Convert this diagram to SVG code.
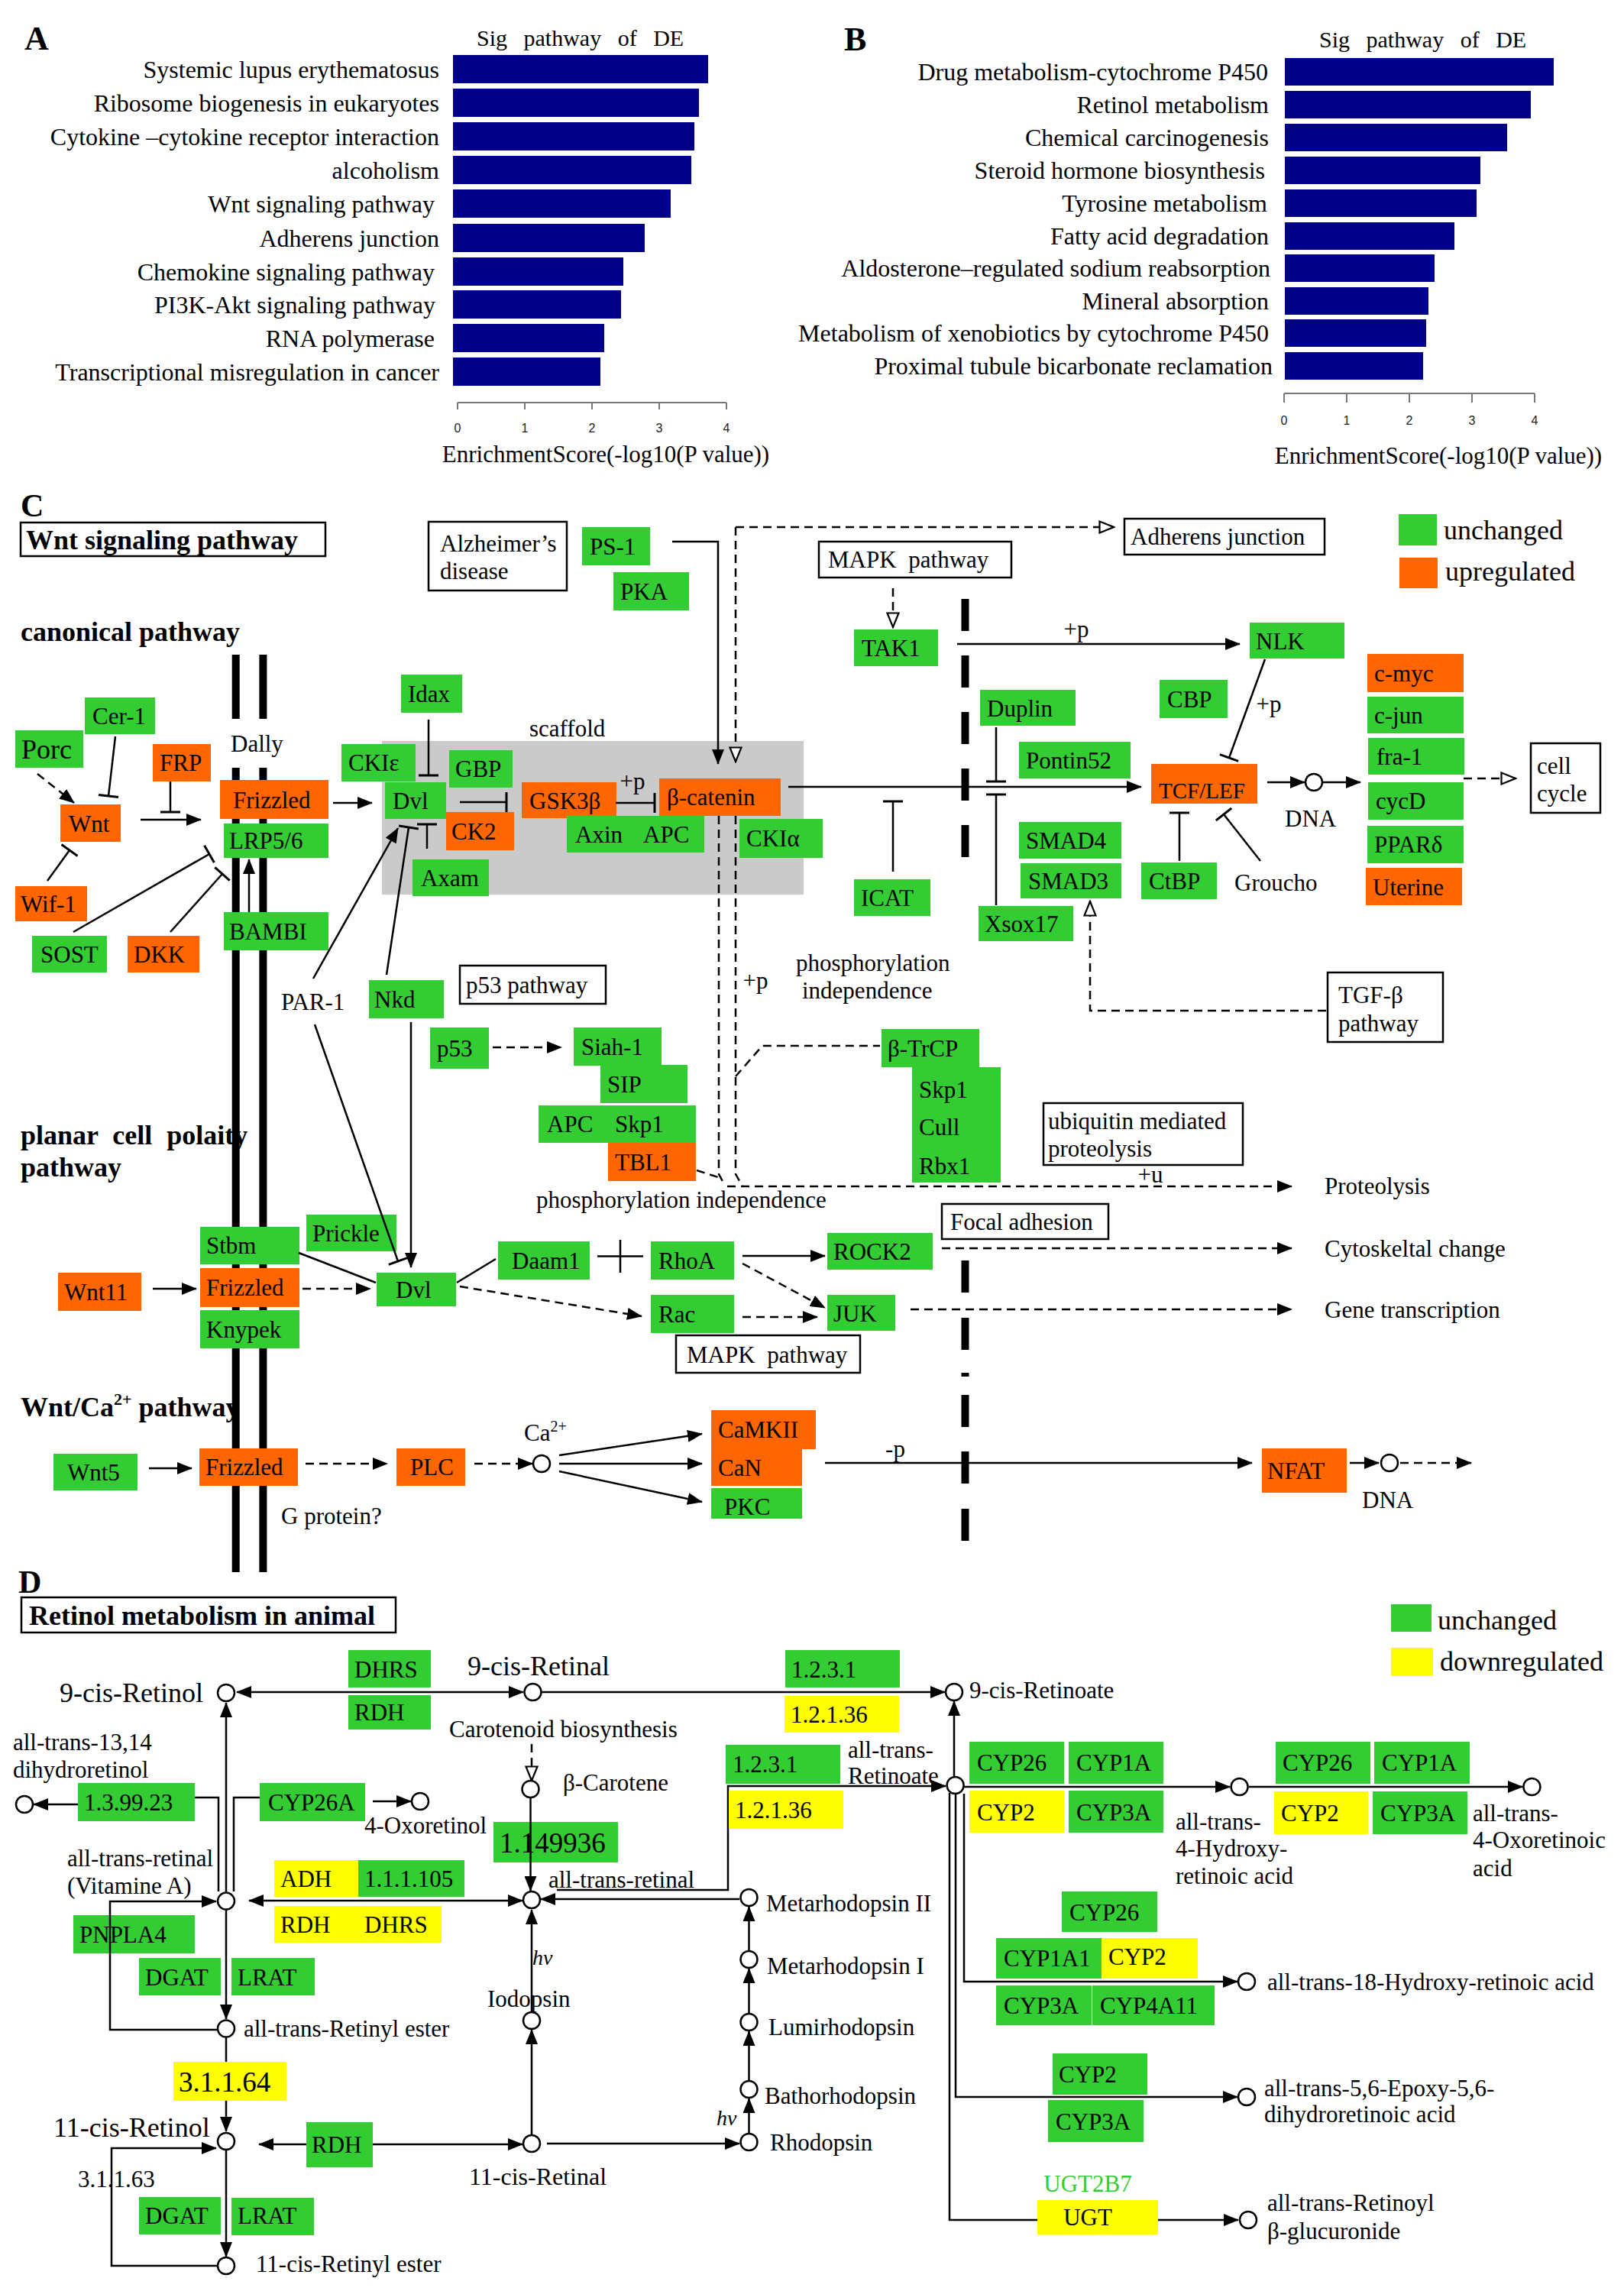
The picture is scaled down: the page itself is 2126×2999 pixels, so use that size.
<svg xmlns="http://www.w3.org/2000/svg" width="2126" height="2999" viewBox="0 0 2126 2999">
<defs>
<style>
.t{font-family:"Liberation Serif","Times New Roman",serif;font-size:31px;fill:#000}
.h{font-weight:bold;font-size:36px}
.big{font-size:36px}
.m{text-anchor:middle}
.r{text-anchor:end}
.lb{font-size:32px}
.ax{font-family:"Liberation Sans",Arial,sans-serif;font-size:16px;fill:#222;text-anchor:middle}
.bar{fill:#000088}
.g{fill:#33cc33}
.o{fill:#ff6600}
.y{fill:#ffff00}
.bx{fill:#fff;stroke:#000;stroke-width:2.5}
.c{stroke:#000;stroke-width:2.5;fill:none}
.dd{stroke-dasharray:11 7}
.ci{fill:#fff;stroke:#000;stroke-width:2.5}
.mem{stroke:#000;stroke-width:10;fill:none}
.ttl{font-size:30px;word-spacing:14px}
</style>
<marker id="a" viewBox="0 0 20 16" refX="19" refY="8" markerWidth="20" markerHeight="16" markerUnits="userSpaceOnUse" orient="auto-start-reverse"><path d="M0,0L20,8L0,16z" fill="#000"/></marker>
<marker id="oa" viewBox="0 0 22 18" refX="20" refY="9" markerWidth="22" markerHeight="18" markerUnits="userSpaceOnUse" orient="auto"><path d="M1.5,1.5L20,9L1.5,16.5z" fill="#fff" stroke="#000" stroke-width="2.2"/></marker>
<marker id="tb" viewBox="0 0 4 26" refX="2" refY="13" markerWidth="4" markerHeight="26" markerUnits="userSpaceOnUse" orient="auto"><path d="M2,0V26" stroke="#000" stroke-width="3"/></marker>
</defs>
<rect width="2126" height="2999" fill="#fff"/>

<!-- ================= PANEL A ================= -->
<g id="panelA">
<text class="t h" x="32" y="65" style="font-size:44px">A</text>
<text class="t ttl" x="624" y="60">Sig pathway of DE</text>
<g id="barsA">
<rect class="bar" x="593" y="72" width="334" height="37"/>
<rect class="bar" x="593" y="116" width="322" height="37"/>
<rect class="bar" x="593" y="160" width="316" height="37"/>
<rect class="bar" x="593" y="204" width="312" height="37"/>
<rect class="bar" x="593" y="248" width="285" height="37"/>
<rect class="bar" x="593" y="293" width="251" height="37"/>
<rect class="bar" x="593" y="337" width="223" height="37"/>
<rect class="bar" x="593" y="380" width="220" height="37"/>
<rect class="bar" x="593" y="424" width="198" height="37"/>
<rect class="bar" x="593" y="468" width="193" height="37"/>
</g>
<g id="labelsA">
<text class="t r lb" x="575" y="102">Systemic lupus erythematosus</text>
<text class="t r lb" x="575" y="146">Ribosome biogenesis in eukaryotes</text>
<text class="t r lb" x="575" y="190">Cytokine –cytokine receptor interaction</text>
<text class="t r lb" x="575" y="234">alcoholism</text>
<text class="t r lb" x="569" y="278">Wnt signaling pathway</text>
<text class="t r lb" x="575" y="323">Adherens junction</text>
<text class="t r lb" x="569" y="367">Chemokine signaling pathway</text>
<text class="t r lb" x="570" y="410">PI3K-Akt signaling pathway</text>
<text class="t r lb" x="569" y="454">RNA polymerase</text>
<text class="t r lb" x="575" y="498">Transcriptional misregulation in cancer</text>
</g>
<path d="M599,527H951M599,527V536M687,527V536M775,527V536M863,527V536M951,527V536" stroke="#777" stroke-width="2" fill="none"/>
<text class="ax" x="599" y="566">0</text>
<text class="ax" x="687" y="566">1</text>
<text class="ax" x="775" y="566">2</text>
<text class="ax" x="863" y="566">3</text>
<text class="ax" x="951" y="566">4</text>
<text class="t m" x="793" y="605">EnrichmentScore(-log10(P value))</text>
</g>

<!-- ================= PANEL B ================= -->
<g id="panelB">
<text class="t h" x="1105" y="66" style="font-size:44px">B</text>
<text class="t ttl" x="1727" y="62">Sig pathway of DE</text>
<g id="barsB">
<rect class="bar" x="1682" y="76" width="352" height="36"/>
<rect class="bar" x="1682" y="119" width="322" height="36"/>
<rect class="bar" x="1682" y="162" width="291" height="36"/>
<rect class="bar" x="1682" y="205" width="256" height="36"/>
<rect class="bar" x="1682" y="248" width="251" height="36"/>
<rect class="bar" x="1682" y="291" width="222" height="36"/>
<rect class="bar" x="1682" y="333" width="196" height="36"/>
<rect class="bar" x="1682" y="376" width="188" height="36"/>
<rect class="bar" x="1682" y="418" width="185" height="36"/>
<rect class="bar" x="1682" y="461" width="181" height="36"/>
</g>
<g id="labelsB">
<text class="t r lb" x="1660" y="105">Drug metabolism-cytochrome P450</text>
<text class="t r lb" x="1661" y="148">Retinol metabolism</text>
<text class="t r lb" x="1661" y="191">Chemical carcinogenesis</text>
<text class="t r lb" x="1656" y="234">Steroid hormone biosynthesis</text>
<text class="t r lb" x="1659" y="277">Tyrosine metabolism</text>
<text class="t r lb" x="1661" y="320">Fatty acid degradation</text>
<text class="t r lb" x="1663" y="362">Aldosterone–regulated sodium reabsorption</text>
<text class="t r lb" x="1661" y="405">Mineral absorption</text>
<text class="t r lb" x="1661" y="447">Metabolism of xenobiotics by cytochrome P450</text>
<text class="t r lb" x="1666" y="490">Proximal tubule bicarbonate reclamation</text>
</g>
<path d="M1681,515H2009M1681,515V527M1763,515V527M1845,515V527M1927,515V527M2009,515V527" stroke="#777" stroke-width="2" fill="none"/>
<text class="ax" x="1681" y="556">0</text>
<text class="ax" x="1763" y="556">1</text>
<text class="ax" x="1845" y="556">2</text>
<text class="ax" x="1927" y="556">3</text>
<text class="ax" x="2009" y="556">4</text>
<text class="t m" x="1883" y="607">EnrichmentScore(-log10(P value))</text>
</g>

<!-- ================= PANEL C ================= -->
<g id="panelC">
<text class="t h" x="27" y="676" style="font-size:42px">C</text>
<g id="titleC"><rect class="bx" x="27" y="684" width="399" height="44"/><text class="t h" x="34" y="719">Wnt signaling pathway</text></g>
<text class="t h" x="27" y="839">canonical pathway</text>
<text class="t h" x="27" y="1498" style="word-spacing:10px">planar cell polaity</text>
<text class="t h" x="27" y="1540">pathway</text>
<text class="t h" x="27" y="1854">Wnt/Ca<tspan dy="-15" style="font-size:22px">2+</tspan><tspan dy="15"> pathway</tspan></text>

<g id="legendC">
<rect class="g" x="1831" y="673" width="50" height="41"/>
<text class="t big" x="1890" y="706">unchanged</text>
<rect class="o" x="1832" y="730" width="50" height="40"/>
<text class="t big" x="1892" y="760">upregulated</text>
</g>

<g id="membranes">
<path class="mem" d="M308.7,857V941M344.4,857V941M308.7,1005V2058M344.4,1005V2058"/>
<path class="mem" d="M1263.5,784V826M1263.5,858V900M1263.5,932V974M1263.5,1006V1048M1263.5,1080V1122M1263.5,1650V1692M1263.5,1725V1767M1263.5,1797V1802M1263.5,1826V1868M1263.5,1900V1942M1263.5,1975V2017"/>
</g>
<rect id="scaffold" x="500" y="970" width="552" height="201" fill="#cacaca"/>
<text class="t" x="693" y="964">scaffold</text>
<text class="t" x="302" y="984">Dally</text>
<text class="t" x="368" y="1322">PAR-1</text>

<g id="alz"><rect class="bx" x="561" y="683" width="181" height="90"/><text class="t" x="576" y="722">Alzheimer’s</text><text class="t" x="576" y="758">disease</text></g>
<g id="p53path"><rect class="bx" x="602" y="1264" width="191" height="50"/><text class="t" x="610" y="1300">p53 pathway</text></g>
<g id="mapk1"><rect class="bx" x="1072" y="709" width="252" height="47"/><text class="t" x="1084" y="743" style="word-spacing:8px">MAPK pathway</text></g>
<g id="adherens"><rect class="bx" x="1472" y="679" width="262" height="47"/><text class="t" x="1480" y="713">Adherens junction</text></g>
<g id="cellcycle"><rect class="bx" x="2004" y="973" width="91" height="91"/><text class="t" x="2012" y="1013">cell</text><text class="t" x="2012" y="1049">cycle</text></g>
<g id="tgfb"><rect class="bx" x="1738" y="1273" width="151" height="91"/><text class="t" x="1752" y="1313">TGF-β</text><text class="t" x="1752" y="1350">pathway</text></g>
<g id="ubiq"><rect class="bx" x="1366" y="1444" width="261" height="81"/><text class="t" x="1372" y="1478">ubiquitin mediated</text><text class="t" x="1372" y="1514">proteolysis</text></g>
<g id="focal"><rect class="bx" x="1233" y="1576" width="218" height="46"/><text class="t" x="1244" y="1610">Focal adhesion</text></g>
<g id="mapk2"><rect class="bx" x="885" y="1748" width="241" height="49"/><text class="t" x="899" y="1784" style="word-spacing:8px">MAPK pathway</text></g>

<g id="PS1"><rect class="g" x="762" y="690" width="89" height="50"/><text class="t" x="772" y="726">PS-1</text></g>
<g id="PKA"><rect class="g" x="803" y="749" width="99" height="50"/><text class="t" x="812" y="785">PKA</text></g>
<g id="Porc"><rect class="g" x="20" y="956" width="89" height="49"/><text class="t big" x="28" y="993">Porc</text></g>
<g id="Cer1"><rect class="g" x="111" y="913" width="92" height="48"/><text class="t" x="121" y="948">Cer-1</text></g>
<g id="FRP"><rect class="o" x="200" y="974" width="76" height="49"/><text class="t" x="209" y="1009">FRP</text></g>
<g id="Wnt"><rect class="o" x="79" y="1053" width="79" height="49"/><text class="t" x="90" y="1089">Wnt</text></g>
<g id="Wif1"><rect class="o" x="20" y="1160" width="94" height="46"/><text class="t" x="27" y="1194">Wif-1</text></g>
<g id="SOST"><rect class="g" x="42" y="1225" width="98" height="48"/><text class="t" x="53" y="1260">SOST</text></g>
<g id="DKK"><rect class="o" x="167" y="1225" width="94" height="48"/><text class="t" x="175" y="1260">DKK</text></g>
<g id="Frizzled1"><rect class="o" x="288" y="1021" width="142" height="51"/><text class="t" x="305" y="1058">Frizzled</text></g>
<g id="LRP56"><rect class="g" x="293" y="1078" width="137" height="45"/><text class="t" x="300" y="1111">LRP5/6</text></g>
<g id="BAMBI"><rect class="g" x="293" y="1194" width="137" height="50"/><text class="t" x="300" y="1230">BAMBI</text></g>
<g id="CKIe"><rect class="g" x="447" y="974" width="97" height="49"/><text class="t" x="456" y="1009">CKIε</text></g>
<g id="Dvl1"><rect class="g" x="504" y="1024" width="80" height="48"/><text class="t" x="514" y="1059">Dvl</text></g>
<g id="Idax"><rect class="g" x="525" y="883" width="80" height="50"/><text class="t" x="534" y="919">Idax</text></g>
<g id="GBP"><rect class="g" x="588" y="982" width="83" height="49"/><text class="t" x="596" y="1017">GBP</text></g>
<g id="CK2"><rect class="o" x="584" y="1063" width="89" height="50"/><text class="t" x="591" y="1099">CK2</text></g>
<g id="Axam"><rect class="g" x="540" y="1125" width="100" height="48"/><text class="t" x="551" y="1160">Axam</text></g>
<g id="GSK3b"><rect class="o" x="683" y="1024" width="124" height="47"/><text class="t" x="693" y="1059">GSK3β</text></g>
<g id="bcatenin"><rect class="o" x="863" y="1019" width="159" height="49"/><text class="t" x="873" y="1054">β-catenin</text></g>
<g id="AxinAPC"><rect class="g" x="742" y="1068" width="180" height="48"/><text class="t" x="753" y="1103">Axin</text><text class="t" x="842" y="1103">APC</text></g>
<g id="CKIa"><rect class="g" x="968" y="1072" width="109" height="51"/><text class="t" x="977" y="1108">CKIα</text></g>
<g id="Nkd"><rect class="g" x="483" y="1283" width="98" height="50"/><text class="t" x="490" y="1319">Nkd</text></g>
<g id="TAK1"><rect class="g" x="1118" y="824" width="110" height="48"/><text class="t" x="1128" y="859">TAK1</text></g>
<g id="NLK"><rect class="g" x="1636" y="815" width="124" height="47"/><text class="t" x="1644" y="850">NLK</text></g>
<g id="CBP"><rect class="g" x="1518" y="890" width="89" height="50"/><text class="t" x="1528" y="926">CBP</text></g>
<g id="Duplin"><rect class="g" x="1283" y="903" width="125" height="47"/><text class="t" x="1292" y="938">Duplin</text></g>
<g id="Pontin52"><rect class="g" x="1334" y="971" width="146" height="48"/><text class="t" x="1343" y="1006">Pontin52</text></g>
<g id="TCFLEF"><rect class="o" x="1507" y="1000" width="139" height="52"/><text class="t" x="1517" y="1045" style="font-size:29px">TCF/LEF</text></g>
<g id="cmyc"><rect class="o" x="1790" y="856" width="126" height="50"/><text class="t" x="1799" y="892">c-myc</text></g>
<g id="cjun"><rect class="g" x="1790" y="912" width="126" height="48"/><text class="t" x="1799" y="947">c-jun</text></g>
<g id="fra1"><rect class="g" x="1791" y="966" width="126" height="48"/><text class="t" x="1802" y="1001">fra-1</text></g>
<g id="cycD"><rect class="g" x="1791" y="1024" width="125" height="49"/><text class="t" x="1801" y="1059">cycD</text></g>
<g id="PPARd"><rect class="g" x="1790" y="1081" width="126" height="49"/><text class="t" x="1799" y="1116">PPARδ</text></g>
<g id="Uterine"><rect class="o" x="1788" y="1136" width="126" height="49"/><text class="t" x="1797" y="1172">Uterine</text></g>
<g id="ICAT"><rect class="g" x="1118" y="1151" width="100" height="48"/><text class="t" x="1127" y="1186">ICAT</text></g>
<g id="Xsox17"><rect class="g" x="1281" y="1186" width="124" height="46"/><text class="t" x="1289" y="1220">Xsox17</text></g>
<g id="SMAD4"><rect class="g" x="1334" y="1076" width="134" height="48"/><text class="t" x="1343" y="1111">SMAD4</text></g>
<g id="SMAD3"><rect class="g" x="1336" y="1130" width="132" height="46"/><text class="t" x="1346" y="1164">SMAD3</text></g>
<g id="CtBP"><rect class="g" x="1494" y="1129" width="99" height="48"/><text class="t" x="1504" y="1164">CtBP</text></g>
<text class="t" x="1616" y="1166">Groucho</text>
<text class="t" x="1682" y="1082">DNA</text>
<text class="t" x="1042" y="1271">phosphorylation</text>
<text class="t" x="1050" y="1307">independence</text>
<text class="t m" x="1409" y="834">+p</text>
<text class="t m" x="1661" y="932">+p</text>
<text class="t m" x="828" y="1033">+p</text>
<text class="t m" x="989" y="1294">+p</text>

<g id="p53"><rect class="g" x="563" y="1345" width="77" height="54"/><text class="t" x="572" y="1383">p53</text></g>
<g id="Siah1"><rect class="g" x="751" y="1345" width="115" height="50"/><text class="t" x="761" y="1381">Siah-1</text></g>
<g id="SIP"><rect class="g" x="786" y="1394" width="114" height="50"/><text class="t" x="795" y="1430">SIP</text></g>
<g id="APCSkp1"><rect class="g" x="705" y="1447" width="206" height="49"/><text class="t" x="716" y="1482">APC</text><text class="t" x="805" y="1482">Skp1</text></g>
<g id="TBL1"><rect class="o" x="796" y="1496" width="115" height="50"/><text class="t" x="805" y="1532">TBL1</text></g>
<text class="t" x="702" y="1581">phosphorylation independence</text>
<g id="bTrCP"><rect class="g" x="1154" y="1347" width="128" height="50"/><text class="t" x="1162" y="1383">β-TrCP</text></g>
<g id="SCF"><rect class="g" x="1194" y="1397" width="116" height="151"/><text class="t" x="1203" y="1437">Skp1</text><text class="t" x="1203" y="1486">Cull</text><text class="t" x="1203" y="1537">Rbx1</text></g>
<text class="t m" x="1506" y="1548">+u</text>
<text class="t" x="1734" y="1563">Proteolysis</text>
<text class="t" x="1734" y="1645">Cytoskeltal change</text>
<text class="t" x="1734" y="1725">Gene transcription</text>

<g id="Stbm"><rect class="g" x="262" y="1606" width="130" height="49"/><text class="t" x="270" y="1641">Stbm</text></g>
<g id="Frizzled2"><rect class="o" x="262" y="1660" width="130" height="51"/><text class="t" x="270" y="1696">Frizzled</text></g>
<g id="Knypek"><rect class="g" x="262" y="1715" width="130" height="50"/><text class="t" x="270" y="1751">Knypek</text></g>
<g id="Wnt11"><rect class="o" x="76" y="1666" width="109" height="50"/><text class="t" x="84" y="1702">Wnt11</text></g>
<g id="Prickle"><rect class="g" x="401" y="1590" width="118" height="48"/><text class="t" x="409" y="1625">Prickle</text></g>
<g id="Dvl2"><rect class="g" x="493" y="1666" width="104" height="44"/><text class="t" x="518" y="1699">Dvl</text></g>
<g id="Daam1"><rect class="g" x="652" y="1625" width="120" height="50"/><text class="t" x="670" y="1661">Daam1</text></g>
<g id="RhoA"><rect class="g" x="852" y="1625" width="109" height="50"/><text class="t" x="862" y="1661">RhoA</text></g>
<g id="Rac"><rect class="g" x="852" y="1695" width="109" height="50"/><text class="t" x="862" y="1731">Rac</text></g>
<g id="ROCK2"><rect class="g" x="1083" y="1614" width="138" height="48"/><text class="t" x="1091" y="1649">ROCK2</text></g>
<g id="JUK"><rect class="g" x="1083" y="1695" width="89" height="47"/><text class="t" x="1091" y="1730">JUK</text></g>

<g id="Wnt5"><rect class="g" x="70" y="1903" width="110" height="48"/><text class="t" x="88" y="1938">Wnt5</text></g>
<g id="Frizzled3"><rect class="o" x="261" y="1896" width="129" height="49"/><text class="t" x="269" y="1931">Frizzled</text></g>
<g id="PLC"><rect class="o" x="519" y="1896" width="90" height="49"/><text class="t" x="537" y="1931">PLC</text></g>
<text class="t" x="686" y="1886">Ca<tspan dy="-12" style="font-size:20px">2+</tspan></text>
<g id="CaMKII"><rect class="o" x="931" y="1846" width="137" height="51"/><text class="t" x="940" y="1882">CaMKII</text></g>
<g id="CaN"><rect class="o" x="931" y="1897" width="119" height="48"/><text class="t" x="940" y="1932">CaN</text></g>
<g id="PKC"><rect class="g" x="931" y="1948" width="119" height="40"/><text class="t" x="948" y="1983">PKC</text></g>
<text class="t" x="368" y="1995">G protein?</text>
<g id="NFAT"><rect class="o" x="1652" y="1896" width="111" height="58"/><text class="t" x="1659" y="1936">NFAT</text></g>
<text class="t" x="1783" y="1974">DNA</text>

<g id="connectorsC">
<path class="c" d="M184,1073H263" marker-end="url(#a)"/>
<path class="c" d="M436,1051H487" marker-end="url(#a)"/>
<path class="c" d="M326,1194V1125" marker-end="url(#a)"/>
<path class="c" d="M880,709H940V1000" marker-end="url(#a)"/>
<path class="c" d="M410,1281L521,1084" marker-end="url(#a)"/>
<path class="c" d="M1253,843H1623" marker-end="url(#a)"/>
<path class="c" d="M1032,1030H1494" marker-end="url(#a)"/>
<path class="c" d="M1659,1024H1708" marker-end="url(#a)"/>
<circle class="ci" cx="1720" cy="1024" r="11"/>
<path class="c" d="M1732,1024H1781" marker-end="url(#a)"/>
<path class="c dd" d="M49,1013L97,1051" marker-end="url(#a)"/>
<path class="c" d="M151,964L142,1042" marker-end="url(#tb)"/>
<path class="c" d="M223,1023V1063" marker-end="url(#tb)"/>
<path class="c" d="M62,1153L91,1113" marker-end="url(#tb)"/>
<path class="c" d="M96,1220L274,1118" marker-end="url(#tb)"/>
<path class="c" d="M223,1220L291,1144" marker-end="url(#tb)"/>
<path class="c" d="M561,942V1015" marker-end="url(#tb)"/>
<path class="c" d="M602,1050H663" marker-end="url(#tb)"/>
<path class="c" d="M506,1276L535,1083" marker-end="url(#tb)"/>
<path class="c" d="M559,1111V1079" marker-end="url(#tb)"/>
<path class="c" d="M806,1051H857" marker-end="url(#tb)"/>
<path class="c" d="M1304,952V1023" marker-end="url(#tb)"/>
<path class="c" d="M1304,1185V1040" marker-end="url(#tb)"/>
<path class="c" d="M1169,1141V1049" marker-end="url(#tb)"/>
<path class="c" d="M1656,863L1609,992" marker-end="url(#tb)"/>
<path class="c" d="M1544,1127V1064" marker-end="url(#tb)"/>
<path class="c" d="M1650,1127L1602,1066" marker-end="url(#tb)"/>
<path class="c dd" d="M963,690V997" marker-end="url(#oa)"/>
<path class="c dd" d="M963,690H1458" marker-end="url(#oa)"/>
<path class="c dd" d="M1169,770V821" marker-end="url(#oa)"/>
<path class="c dd" d="M1916,1019H1984" marker-end="url(#oa)"/>
<path class="c dd" d="M1736,1323H1427V1180" marker-end="url(#oa)"/>
<path class="c dd" d="M941,1068V1537L948,1550"/>
<path class="c dd" d="M963,1068V1537L972,1553"/>
<path class="c dd" d="M963,1409L998,1369H1152"/>
<path class="c dd" d="M912,1532L940,1541"/>
<path class="c dd" d="M952,1553H1691" marker-end="url(#a)"/>
<path class="c dd" d="M645,1371H735" marker-end="url(#a)"/>
<path class="c" d="M200,1687H257" marker-end="url(#a)"/>
<path class="c dd" d="M396,1687H485" marker-end="url(#a)"/>
<path class="c" d="M538,1338V1659" marker-end="url(#a)"/>
<path class="c" d="M412,1341L521,1651" marker-end="url(#tb)"/>
<path class="c" d="M391,1640L492,1679"/>
<path class="c" d="M598,1679L649,1648"/>
<path class="c" d="M782,1644.5H842M812,1623V1666"/>
<path class="c dd" d="M602,1684L840,1723" marker-end="url(#a)"/>
<path class="c" d="M972,1644H1080" marker-end="url(#a)"/>
<path class="c dd" d="M972,1654L1080,1712" marker-end="url(#a)"/>
<path class="c dd" d="M972,1724H1070" marker-end="url(#a)"/>
<path class="c dd" d="M1233,1634H1691" marker-end="url(#a)"/>
<path class="c dd" d="M1192,1714H1691" marker-end="url(#a)"/>
<path class="c" d="M195,1922H251" marker-end="url(#a)"/>
<path class="c dd" d="M400,1916H507" marker-end="url(#a)"/>
<path class="c dd" d="M621,1916H697" marker-end="url(#a)"/>
<circle class="ci" cx="709" cy="1916" r="11"/>
<path class="c" d="M732,1905L919,1877" marker-end="url(#a)"/>
<path class="c" d="M732,1916H919" marker-end="url(#a)"/>
<path class="c" d="M732,1926L919,1966" marker-end="url(#a)"/>
<path class="c" d="M1080,1915H1639" marker-end="url(#a)"/>
<path class="c" d="M1767,1915H1805" marker-end="url(#a)"/>
<circle class="ci" cx="1819" cy="1915" r="11"/>
<path class="c dd" d="M1833,1915H1926" marker-end="url(#a)"/>
</g>
<text class="t m" x="1172" y="1907">-p</text>
</g>

<!-- ================= PANEL D ================= -->
<g id="panelD">
<text class="t h" x="24" y="2085" style="font-size:42px">D</text>
<g id="titleD"><rect class="bx" x="28" y="2091" width="490" height="46"/><text class="t h" x="38" y="2127">Retinol metabolism in animal</text></g>
<g id="legendD">
<rect class="g" x="1821" y="2100" width="53" height="36"/>
<text class="t big" x="1882" y="2133">unchanged</text>
<rect class="y" x="1821" y="2157" width="55" height="37"/>
<text class="t big" x="1885" y="2187">downregulated</text>
</g>

<g id="connectorsD">
<path class="c" d="M310,2215H685" marker-start="url(#a)" marker-end="url(#a)"/>
<path class="c" d="M709,2215H1237" marker-end="url(#a)"/>
<path class="c" d="M296,2477V2229" marker-end="url(#a)"/>
<path class="c" d="M286,2476V2353H255M306,2476V2353H340"/>
<path class="c" d="M102,2362H44" marker-end="url(#a)"/>
<path class="c" d="M488,2358H538" marker-end="url(#a)"/>
<path class="c" d="M326,2488H684" marker-start="url(#a)" marker-end="url(#a)"/>
<path class="c dd" d="M696,2283V2331" marker-end="url(#oa)"/>
<path class="c" d="M968,2486H708" marker-end="url(#a)"/>
<path class="c" d="M729,2474H953V2338H1238" marker-end="url(#a)"/>
<path class="c" d="M980.5,2792V2747" marker-end="url(#a)"/>
<path class="c" d="M980.5,2723V2659" marker-end="url(#a)"/>
<path class="c" d="M980.5,2635V2577" marker-end="url(#a)"/>
<path class="c" d="M980.5,2553V2496" marker-end="url(#a)"/>
<path class="c" d="M716,2806H968" marker-end="url(#a)"/>
<path class="c" d="M696,2794V2657" marker-end="url(#a)"/>
<path class="c" d="M696,2633V2500" marker-end="url(#a)"/>
<path class="c" d="M296,2500V2643" marker-end="url(#a)"/>
<path class="c" d="M296,2667V2790" marker-end="url(#a)"/>
<path class="c" d="M339,2807H684" marker-start="url(#a)" marker-end="url(#a)"/>
<path class="c" d="M296,2815V2954" marker-end="url(#a)"/>
<path class="c" d="M285,2966H146V2812H283" marker-end="url(#a)"/>
<path class="c" d="M1249,2325V2227" marker-end="url(#a)"/>
<path class="c" d="M1262,2339H1610" marker-end="url(#a)"/>
<path class="c" d="M1635,2339H1993" marker-end="url(#a)"/>
<path class="c" d="M1243,2347V2906H1621" marker-end="url(#a)"/>
<path class="c" d="M1251,2348V2745H1620" marker-end="url(#a)"/>
<path class="c" d="M1262,2348V2594H1620" marker-end="url(#a)"/>
</g>

<g id="DHRS1"><rect class="g" x="456" y="2160" width="108" height="49"/><text class="t" x="464" y="2196">DHRS</text></g>
<g id="RDH1"><rect class="g" x="456" y="2219" width="108" height="45"/><text class="t" x="464" y="2252">RDH</text></g>
<g id="e1231a"><rect class="g" x="1028" y="2160" width="150" height="49"/><text class="t" x="1036" y="2196">1.2.3.1</text></g>
<g id="e12136a"><rect class="y" x="1027" y="2220" width="150" height="48"/><text class="t" x="1035" y="2255">1.2.1.36</text></g>
<g id="e1231b"><rect class="g" x="950" y="2284" width="150" height="51"/><text class="t" x="959" y="2320">1.2.3.1</text></g>
<g id="e12136b"><rect class="y" x="954" y="2344" width="150" height="50"/><text class="t" x="962" y="2380">1.2.1.36</text></g>
<g id="e139923"><rect class="g" x="102" y="2334" width="153" height="50"/><text class="t" x="110" y="2370">1.3.99.23</text></g>
<g id="CYP26A"><rect class="g" x="340" y="2334" width="138" height="50"/><text class="t" x="351" y="2370">CYP26A</text></g>
<g id="e1149936"><rect class="g" x="646" y="2385" width="163" height="53"/><text class="t" x="654" y="2425" style="font-size:37px">1.149936</text></g>
<g id="ADH"><rect class="y" x="359" y="2435" width="110" height="48"/><text class="t" x="367" y="2470">ADH</text></g>
<g id="e111105"><rect class="g" x="469" y="2435" width="139" height="48"/><text class="t" x="477" y="2470">1.1.1.105</text></g>
<g id="RDHDHRS"><rect class="y" x="359" y="2495" width="219" height="48"/><text class="t" x="367" y="2530">RDH</text><text class="t" x="477" y="2530">DHRS</text></g>
<g id="PNPLA4"><rect class="g" x="96" y="2507" width="159" height="50"/><text class="t" x="104" y="2543">PNPLA4</text></g>
<g id="DGAT1"><rect class="g" x="182" y="2563" width="107" height="49"/><text class="t" x="190" y="2599">DGAT</text></g>
<g id="LRAT1"><rect class="g" x="303" y="2563" width="109" height="49"/><text class="t" x="311" y="2599">LRAT</text></g>
<g id="e31164"><rect class="y" x="227" y="2699" width="148" height="51"/><text class="t" x="234" y="2738" style="font-size:37px">3.1.1.64</text></g>
<g id="RDH2"><rect class="g" x="401" y="2778" width="87" height="59"/><text class="t" x="408" y="2818">RDH</text></g>
<g id="DGAT2"><rect class="g" x="182" y="2876" width="107" height="49"/><text class="t" x="190" y="2911">DGAT</text></g>
<g id="LRAT2"><rect class="g" x="303" y="2877" width="108" height="49"/><text class="t" x="311" y="2911">LRAT</text></g>
<g id="CYP26a"><rect class="g" x="1269" y="2280" width="124" height="55"/><text class="t" x="1279" y="2318">CYP26</text></g>
<g id="CYP1Aa"><rect class="g" x="1399" y="2280" width="124" height="55"/><text class="t" x="1409" y="2318">CYP1A</text></g>
<g id="CYP2a"><rect class="y" x="1269" y="2344" width="124" height="55"/><text class="t" x="1279" y="2383">CYP2</text></g>
<g id="CYP3Aa"><rect class="g" x="1399" y="2344" width="124" height="55"/><text class="t" x="1409" y="2383">CYP3A</text></g>
<g id="CYP26b"><rect class="g" x="1670" y="2280" width="124" height="55"/><text class="t" x="1679" y="2318">CYP26</text></g>
<g id="CYP1Ab"><rect class="g" x="1799" y="2280" width="125" height="55"/><text class="t" x="1809" y="2318">CYP1A</text></g>
<g id="CYP2b"><rect class="y" x="1668" y="2345" width="123" height="56"/><text class="t" x="1677" y="2384">CYP2</text></g>
<g id="CYP3Ab"><rect class="g" x="1797" y="2345" width="124" height="56"/><text class="t" x="1807" y="2384">CYP3A</text></g>
<g id="CYP26c"><rect class="g" x="1390" y="2476" width="125" height="53"/><text class="t" x="1400" y="2514">CYP26</text></g>
<g id="CYP1A1"><rect class="g" x="1304" y="2537" width="138" height="53"/><text class="t" x="1314" y="2574">CYP1A1</text></g>
<g id="CYP2c"><rect class="y" x="1442" y="2537" width="126" height="53"/><text class="t" x="1451" y="2572">CYP2</text></g>
<g id="CYP3Ac"><rect class="g" x="1304" y="2599" width="125" height="52"/><text class="t" x="1314" y="2636">CYP3A</text></g>
<g id="CYP4A11"><rect class="g" x="1430" y="2599" width="160" height="52"/><text class="t" x="1440" y="2636">CYP4A11</text></g>
<g id="CYP2d"><rect class="g" x="1378" y="2688" width="124" height="54"/><text class="t" x="1386" y="2726">CYP2</text></g>
<g id="CYP3Ad"><rect class="g" x="1372" y="2749" width="125" height="55"/><text class="t" x="1382" y="2788">CYP3A</text></g>
<text class="t m" x="1424" y="2869" style="fill:#33cc33">UGT2B7</text>
<g id="UGT"><rect class="y" x="1358" y="2880" width="158" height="45"/><text class="t m" x="1424" y="2913">UGT</text></g>

<g id="connectorsD-over">
<path class="c" d="M694.5,2354V2475" marker-end="url(#a)"/>
<path class="c" d="M285,2657H144V2489H283" marker-end="url(#a)"/>
</g>

<g id="metabolites">
<circle class="ci" cx="296" cy="2216" r="11"/>
<circle class="ci" cx="697.5" cy="2215" r="11"/>
<circle class="ci" cx="1249" cy="2215" r="11"/>
<circle class="ci" cx="1250.6" cy="2337" r="11"/>
<circle class="ci" cx="1622.6" cy="2339" r="11"/>
<circle class="ci" cx="2005.4" cy="2339" r="11"/>
<circle class="ci" cx="1632" cy="2594" r="11"/>
<circle class="ci" cx="1632" cy="2745" r="11"/>
<circle class="ci" cx="1634" cy="2906" r="11"/>
<circle class="ci" cx="32" cy="2362" r="11"/>
<circle class="ci" cx="550" cy="2358" r="11"/>
<circle class="ci" cx="694.5" cy="2342" r="11"/>
<circle class="ci" cx="696" cy="2487" r="11"/>
<circle class="ci" cx="296" cy="2488.6" r="11"/>
<circle class="ci" cx="980.5" cy="2484" r="11"/>
<circle class="ci" cx="980.5" cy="2565" r="11"/>
<circle class="ci" cx="980.5" cy="2647" r="11"/>
<circle class="ci" cx="980.5" cy="2735" r="11"/>
<circle class="ci" cx="980.5" cy="2804" r="11"/>
<circle class="ci" cx="696" cy="2645" r="11"/>
<circle class="ci" cx="696" cy="2806" r="11"/>
<circle class="ci" cx="296" cy="2803" r="11"/>
<circle class="ci" cx="296" cy="2655.5" r="11"/>
<circle class="ci" cx="296" cy="2966" r="11"/>
<text class="t big" x="78" y="2228">9-cis-Retinol</text>
<text class="t big" x="612" y="2193">9-cis-Retinal</text>
<text class="t" x="1269" y="2223">9-cis-Retinoate</text>
<text class="t" x="588" y="2274">Carotenoid biosynthesis</text>
<text class="t" x="737" y="2344">β-Carotene</text>
<text class="t" x="17" y="2291">all-trans-13,14</text>
<text class="t" x="17" y="2327">dihydroretinol</text>
<text class="t" x="477" y="2400">4-Oxoretinol</text>
<text class="t" x="88" y="2443">all-trans-retinal</text>
<text class="t" x="88" y="2479">(Vitamine A)</text>
<text class="t" x="718" y="2471">all-trans-retinal</text>
<text class="t" x="1110" y="2301">all-trans-</text>
<text class="t" x="1110" y="2335">Retinoate</text>
<text class="t" x="1003" y="2502">Metarhodopsin II</text>
<text class="t" x="1004" y="2584">Metarhodopsin I</text>
<text class="t" x="1006" y="2664">Lumirhodopsin</text>
<text class="t" x="1001" y="2754">Bathorhodopsin</text>
<text class="t" x="1008" y="2815">Rhodopsin</text>
<text class="t" x="938" y="2782" style="font-style:italic;font-size:28px">hv</text>
<text class="t" x="697" y="2572" style="font-style:italic;font-size:28px">hv</text>
<text class="t" x="638" y="2627">Iodopsin</text>
<text class="t" x="614" y="2860" style="font-size:32px">11-cis-Retinal</text>
<text class="t big" x="70" y="2797">11-cis-Retinol</text>
<text class="t" x="319" y="2666">all-trans-Retinyl ester</text>
<text class="t" x="102" y="2863">3.1.1.63</text>
<text class="t" x="335" y="2974">11-cis-Retinyl ester</text>
<text class="t" x="1539" y="2395">all-trans-</text>
<text class="t" x="1539" y="2430">4-Hydroxy-</text>
<text class="t" x="1539" y="2466">retinoic acid</text>
<text class="t" x="1928" y="2384">all-trans-</text>
<text class="t" x="1928" y="2419">4-Oxoretinoic</text>
<text class="t" x="1928" y="2456">acid</text>
<text class="t" x="1659" y="2605">all-trans-18-Hydroxy-retinoic acid</text>
<text class="t" x="1655" y="2744">all-trans-5,6-Epoxy-5,6-</text>
<text class="t" x="1655" y="2778">dihydroretinoic acid</text>
<text class="t" x="1659" y="2894">all-trans-Retinoyl</text>
<text class="t" x="1659" y="2931">β-glucuronide</text>
</g>
</g>
</svg>
